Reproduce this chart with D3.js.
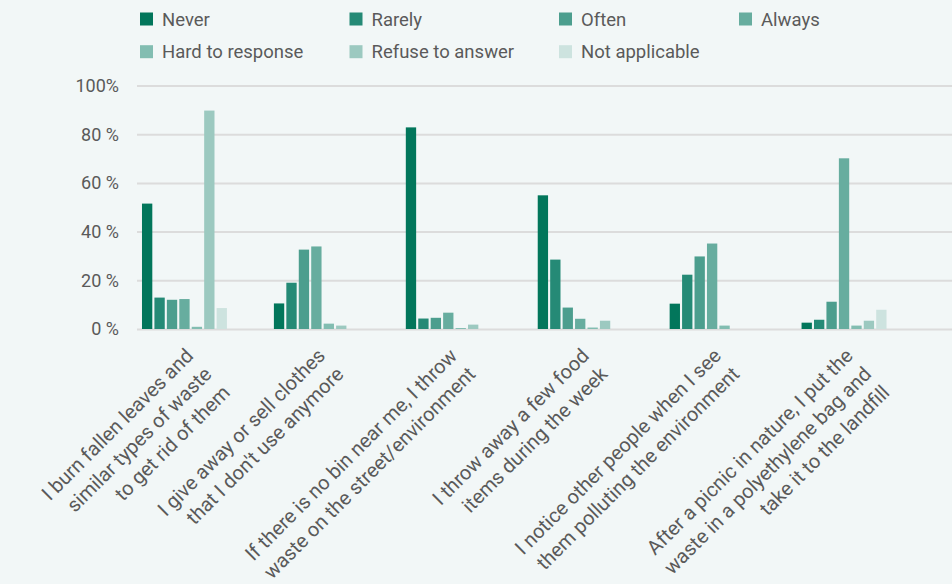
<!DOCTYPE html>
<html>
<head>
<meta charset="utf-8">
<script src="https://cdn.jsdelivr.net/npm/d3@7"></script>
<style>
  html, body { margin: 0; padding: 0; background: #f2f7f7; }
  svg { display: block; font-family: Roboto, "Noto Sans", sans-serif; }
</style>
</head>
<body>
<svg id="chart" width="952" height="584"></svg>
<script>
// Survey statements (x categories), one label line per array entry
const categories = [
  ["I burn fallen leaves and", "similar types of waste", "to get rid of them"],
  ["I give away or sell clothes", "that I don't use anymore"],
  ["If there is no bin near me, I throw", "waste on the street/environment"],
  ["I throw away a few food", "items during the week"],
  ["I notice other people when I see", "them polluting the environment"],
  ["After a picnic in nature, I put the", "waste in a polyethylene bag and", "take it to the landfill"]
];

// Answer options (series)
const seriesNames = ["Never", "Rarely", "Often", "Always", "Hard to response", "Refuse to answer", "Not applicable"];
const seriesColors = ["#02765b", "#258a76", "#4c9e8e", "#67ad9f", "#82bdb1", "#9cc9c0", "#cde3df"];

// Share of respondents (%) per statement, one array per answer option
const never   = [51.5, 10.5, 82.8, 54.9, 10.4, 2.6];
const rarely  = [12.9, 19.0, 4.3, 28.5, 22.3, 3.8];
const often   = [12.0, 32.6, 4.6, 8.8, 29.8, 11.2];
const always  = [12.3, 33.9, 6.7, 4.2, 35.1, 70.1];
const hard    = [0.9, 2.2, 0.4, 0.6, 1.4, 1.4];
const refuse  = [89.7, 1.4, 1.8, 3.4, 0, 3.4];
const notAppl = [8.6, 0, 0, 0, 0, 7.9];
const seriesValues = [never, rarely, often, always, hard, refuse, notAppl];

// Y axis ticks and their labels
const yTicks = [0, 20, 40, 60, 80, 100];
const yTickLabels = ["0 %", "20 %", "40 %", "60 %", "80 %", "100%"];

const W = 952, H = 584;
const svg = d3.select("#chart");
const textColor = "#5a5a5a";

const gridLeft = 137, gridRight = 952;

const y = d3.scaleLinear().domain([0, 100]).range([329, 85.5]);

const catIdx = categories.map((_, i) => i);
const x0 = d3.scaleBand().domain(catIdx).range([118.5, 910])
  .paddingInner(0.356).paddingOuter(0.178);
const x1 = d3.scaleBand().domain(d3.range(seriesNames.length))
  .range([0, x0.bandwidth()]).paddingInner(0.17).paddingOuter(0);

// Horizontal gridlines
svg.append("g").selectAll("line").data(yTicks).join("line")
  .attr("x1", gridLeft).attr("x2", gridRight)
  .attr("y1", d => y(d) + 0.5).attr("y2", d => y(d) + 0.5)
  .attr("stroke", "#dcdcdc").attr("stroke-width", 2);

// Y tick labels
svg.append("g").selectAll("text").data(yTicks).join("text")
  .attr("x", 119).attr("y", d => y(d))
  .attr("dy", "0.36em")
  .attr("text-anchor", "end")
  .attr("fill", textColor)
  .style("font-size", "18px")
  .text((d, i) => yTickLabels[i]);

// Bars
const groups = svg.append("g").selectAll("g").data(catIdx).join("g")
  .attr("transform", c => `translate(${x0(c)},0)`);

groups.selectAll("rect")
  .data(c => seriesValues.map((vals, s) => ({ s, v: vals[c] })))
  .join("rect")
  .attr("x", d => x1(d.s))
  .attr("width", x1.bandwidth())
  .attr("y", d => y(d.v))
  .attr("height", d => y(0) - y(d.v))
  .attr("fill", d => seriesColors[d.s]);

// Rotated multi-line category labels
const labels = svg.append("g").selectAll("g").data(catIdx).join("g")
  .attr("transform", c => `translate(${x0(c) + x0.bandwidth() / 2 + 10},${357}) rotate(-45)`);

labels.append("text")
  .attr("text-anchor", "end")
  .attr("fill", textColor)
  .style("font-size", "20px")
  .selectAll("tspan")
  .data(c => categories[c])
  .join("tspan")
  .attr("x", 0)
  .attr("y", (d, i) => i * 26)
  .text(d => d);

// Legend
const legendCols = [140, 349.5, 559, 739];
const legendRows = [19, 51.7];
const legend = svg.append("g").selectAll("g").data(seriesNames).join("g")
  .attr("transform", (d, i) => `translate(${legendCols[i % 4]},${legendRows[Math.floor(i / 4)]})`);
legend.append("rect")
  .attr("x", 0).attr("y", -6.5).attr("width", 13).attr("height", 13)
  .attr("fill", (d, i) => seriesColors[i]);
legend.append("text")
  .attr("x", 22).attr("y", 0).attr("dy", "0.36em")
  .attr("fill", textColor)
  .style("font-size", "18.5px")
  .text(d => d);
</script>
</body>
</html>
